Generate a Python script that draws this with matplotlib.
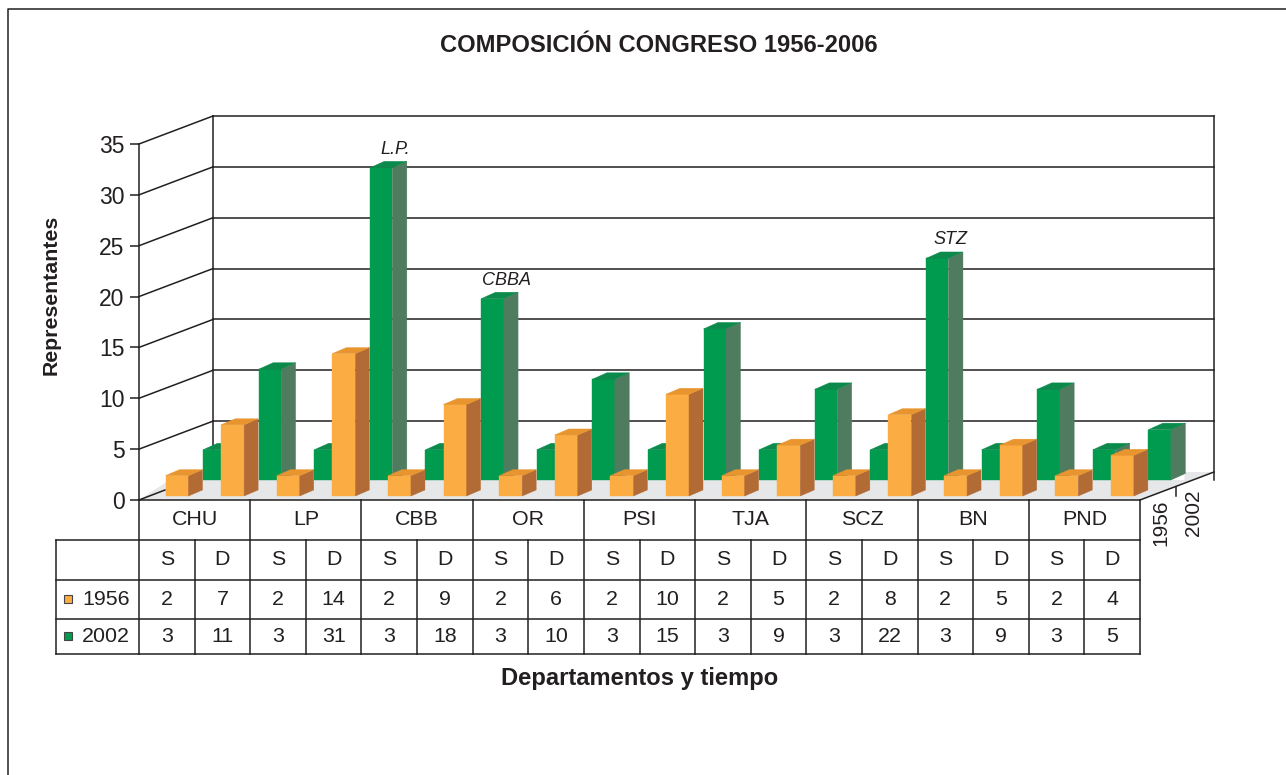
"""
Composicion del congreso 1956-2002: pseudo 3D bars with data table below.
"""

import matplotlib
matplotlib.use("Agg")
import matplotlib.pyplot as plt
from matplotlib.patches import Polygon

plt.rcParams["font.family"] = ["Liberation Sans", "DejaVu Sans"]

departments = ["CHU", "LP", "CBB", "OR", "PSI", "TJA", "SCZ", "BN", "PND"]
chambers = ["S", "D"]
values_1956 = [2, 7, 2, 14, 2, 9, 2, 6, 2, 10, 2, 5, 2, 8, 2, 5, 2, 4]
values_2002 = [3, 11, 3, 31, 3, 18, 3, 10, 3, 15, 3, 9, 3, 22, 3, 9, 3, 5]
y_ticks = [0, 5, 10, 15, 20, 25, 30, 35]
callouts = [("L.P.", 3, 31), ("CBBA", 5, 18), ("STZ", 13, 22)]

W, H = 1286, 775
INK = "#231F20"
LW = 1.1
GREEN_SCALE = 0.99      # green boxes run a touch short of the axis scale

# layout in pixels
X0, X1 = 139, 1140      # front plane
Y0, Y35 = 500, 144
DX, DY = 74, 28         # depth of the box
ROWS = [500, 539.5, 580, 619, 654]
X_HEAD = 56

fig = plt.figure(figsize=(W / 100, H / 100), dpi=100, facecolor="white")

# page axes: frame, table, titles (pixel coords)
page = fig.add_axes([0, 0, 1, 1], zorder=1)
page.set_xlim(0, W)
page.set_ylim(H, 0)
page.axis("off")
page.patch.set_alpha(0)

# chart axes: x in table columns, y in representatives
ax = fig.add_axes([X0 / W, 1 - Y0 / H, (X1 - X0) / W, (Y0 - Y35) / H], zorder=0)
n_cols = len(values_1956)
ax.set_xlim(0, n_cols)
ax.set_ylim(0, y_ticks[-1])
ax.patch.set_alpha(0)
for name in ["top", "right", "bottom"]:
    ax.spines[name].set_visible(False)
ax.spines["left"].set_color(INK)
ax.spines["left"].set_linewidth(LW)
ax.set_xticks([])
ax.set_yticks(y_ticks)
ax.tick_params(axis="y", length=6.5, width=LW, color=INK, labelcolor=INK, labelsize=16.5, pad=4)

col_px = (X1 - X0) / n_cols
unit_px = (Y0 - Y35) / y_ticks[-1]
dx_col = DX / col_px
dy_val = DY / unit_px


def draw_bar(col, value, left_px, base_px, width_px, depth_px, rise_px, colors, z):
    """One box: front, side and top faces in chart units."""
    x0 = col + left_px / col_px
    x1 = x0 + width_px / col_px
    y0 = base_px / unit_px
    y1 = y0 + value
    ddx = depth_px / col_px
    ddy = rise_px / unit_px
    faces = [
        ([(x0, y0), (x1, y0), (x1, y1), (x0, y1)], colors[0]),
        ([(x1, y0), (x1 + ddx, y0 + ddy), (x1 + ddx, y1 + ddy), (x1, y1)], colors[1]),
        ([(x0, y1), (x1, y1), (x1 + ddx, y1 + ddy), (x0 + ddx, y1 + ddy)], colors[2]),
    ]
    for pts, c in faces:
        ax.add_patch(Polygon(pts, closed=True, facecolor=c, edgecolor=c, linewidth=0.3,
                             clip_on=False, zorder=z))


# back wall
for v in y_ticks[1:]:
    ax.plot([0, dx_col], [v, v + dy_val], color=INK, lw=LW, clip_on=False, zorder=1)
    ax.plot([dx_col, n_cols + dx_col], [v + dy_val, v + dy_val], color=INK, lw=LW, clip_on=False, zorder=1)
ax.plot([dx_col, dx_col], [dy_val, y_ticks[-1] + dy_val], color=INK, lw=LW, clip_on=False, zorder=1)
ax.plot([n_cols + dx_col] * 2, [dy_val - 8 / unit_px, y_ticks[-1] + dy_val], color=INK, lw=LW, clip_on=False, zorder=1)

# floor
floor = [(0, 0), (n_cols, 0), (n_cols + dx_col, dy_val),
         (n_cols + 0.8, dy_val), (n_cols + 0.8, 20 / unit_px), (0.55, 20 / unit_px)]
ax.add_patch(Polygon(floor, closed=True, facecolor="#E6E7E8", edgecolor="none", clip_on=False, zorder=2))
ax.plot([0, 26 / col_px], [0, 10 / unit_px], color=INK, lw=LW, clip_on=False, zorder=3)
ax.plot([0, n_cols], [0, 0], color=INK, lw=LW, clip_on=False, zorder=3)
ax.plot([n_cols, n_cols + dx_col], [0, dy_val], color=INK, lw=LW, clip_on=False, zorder=3)

GREEN = ("#009B4E", "#4F7C5E", "#0B8A4C")
ORANGE = ("#FBAD44", "#B26B35", "#E8952F")
for i, v in enumerate(values_2002):
    draw_bar(i, v * GREEN_SCALE, 64, 20, 22.5, 14.5, 6.5, GREEN, 4 + i * 0.01)
for i, v in enumerate(values_1956):
    draw_bar(i, v, 26.5, 4, 23, 14, 6, ORANGE, 5 + i * 0.01)

for label, col, v in callouts:
    ax.text(col + 89 / col_px, v * GREEN_SCALE + 30 / unit_px, label, style="italic", fontsize=13,
            color=INK, ha="center", va="bottom", clip_on=False, zorder=6)

# depth axis
tick_x = X1 + 36
page.plot([tick_x, tick_x], [487, 496], color=INK, lw=LW)
page.text(1161, 499, "1956", rotation=90, fontsize=15, color=INK, ha="center", va="top")
page.text(1193, 489, "2002", rotation=90, fontsize=15, color=INK, ha="center", va="top")

# table
for y in ROWS[1:]:
    page.plot([X_HEAD, X1], [y, y], color=INK, lw=LW)
page.plot([X_HEAD, X_HEAD], [ROWS[1], ROWS[-1]], color=INK, lw=LW)
page.plot([X0, X0], [ROWS[0], ROWS[-1]], color=INK, lw=LW)
page.plot([X1, X1], [ROWS[0], ROWS[-1]], color=INK, lw=LW)
for i in range(1, n_cols):
    top = ROWS[0] if i % 2 == 0 else ROWS[1]
    x = X0 + i * col_px
    page.plot([x, x], [top, ROWS[-1]], color=INK, lw=LW)

fs = 15.4
for i, d in enumerate(departments):
    page.text(X0 + (2 * i + 1) * col_px, (ROWS[0] + ROWS[1]) / 2, d, fontsize=fs, color=INK, ha="center", va="center")
for i in range(n_cols):
    xc = X0 + (i + 0.5) * col_px
    page.text(xc, (ROWS[1] + ROWS[2]) / 2, chambers[i % 2], fontsize=fs, color=INK, ha="center", va="center")
    page.text(xc, (ROWS[2] + ROWS[3]) / 2, str(values_1956[i]), fontsize=fs, color=INK, ha="center", va="center")
    page.text(xc, (ROWS[3] + ROWS[4]) / 2, str(values_2002[i]), fontsize=fs, color=INK, ha="center", va="center")

for label, color, r in [("1956", ORANGE[0], 2), ("2002", GREEN[0], 3)]:
    yc = (ROWS[r] + ROWS[r + 1]) / 2
    page.plot([67.5], [yc - 1], marker="s", ms=5.8, mfc=color, mec="#444444", mew=0.8, ls="none")
    page.text(130, yc, label, fontsize=fs, color=INK, ha="right", va="center")

# frame and titles (no right edge on the original)
page.plot([7.5, 7.5, W], [H, 9, 9], color=INK, lw=LW)
page.text(659, 45, "COMPOSICIÓN CONGRESO 1956-2006", fontsize=17.1, fontweight="bold", color=INK, ha="center", va="center")
page.text(51.5, 295, "Representantes", fontsize=15.3, fontweight="bold", color=INK, rotation=90, ha="center", va="center")
page.text(639.5, 678, "Departamentos y tiempo", fontsize=17.1, fontweight="bold", color=INK, ha="center", va="center")

fig.savefig("out.png", dpi=100)
